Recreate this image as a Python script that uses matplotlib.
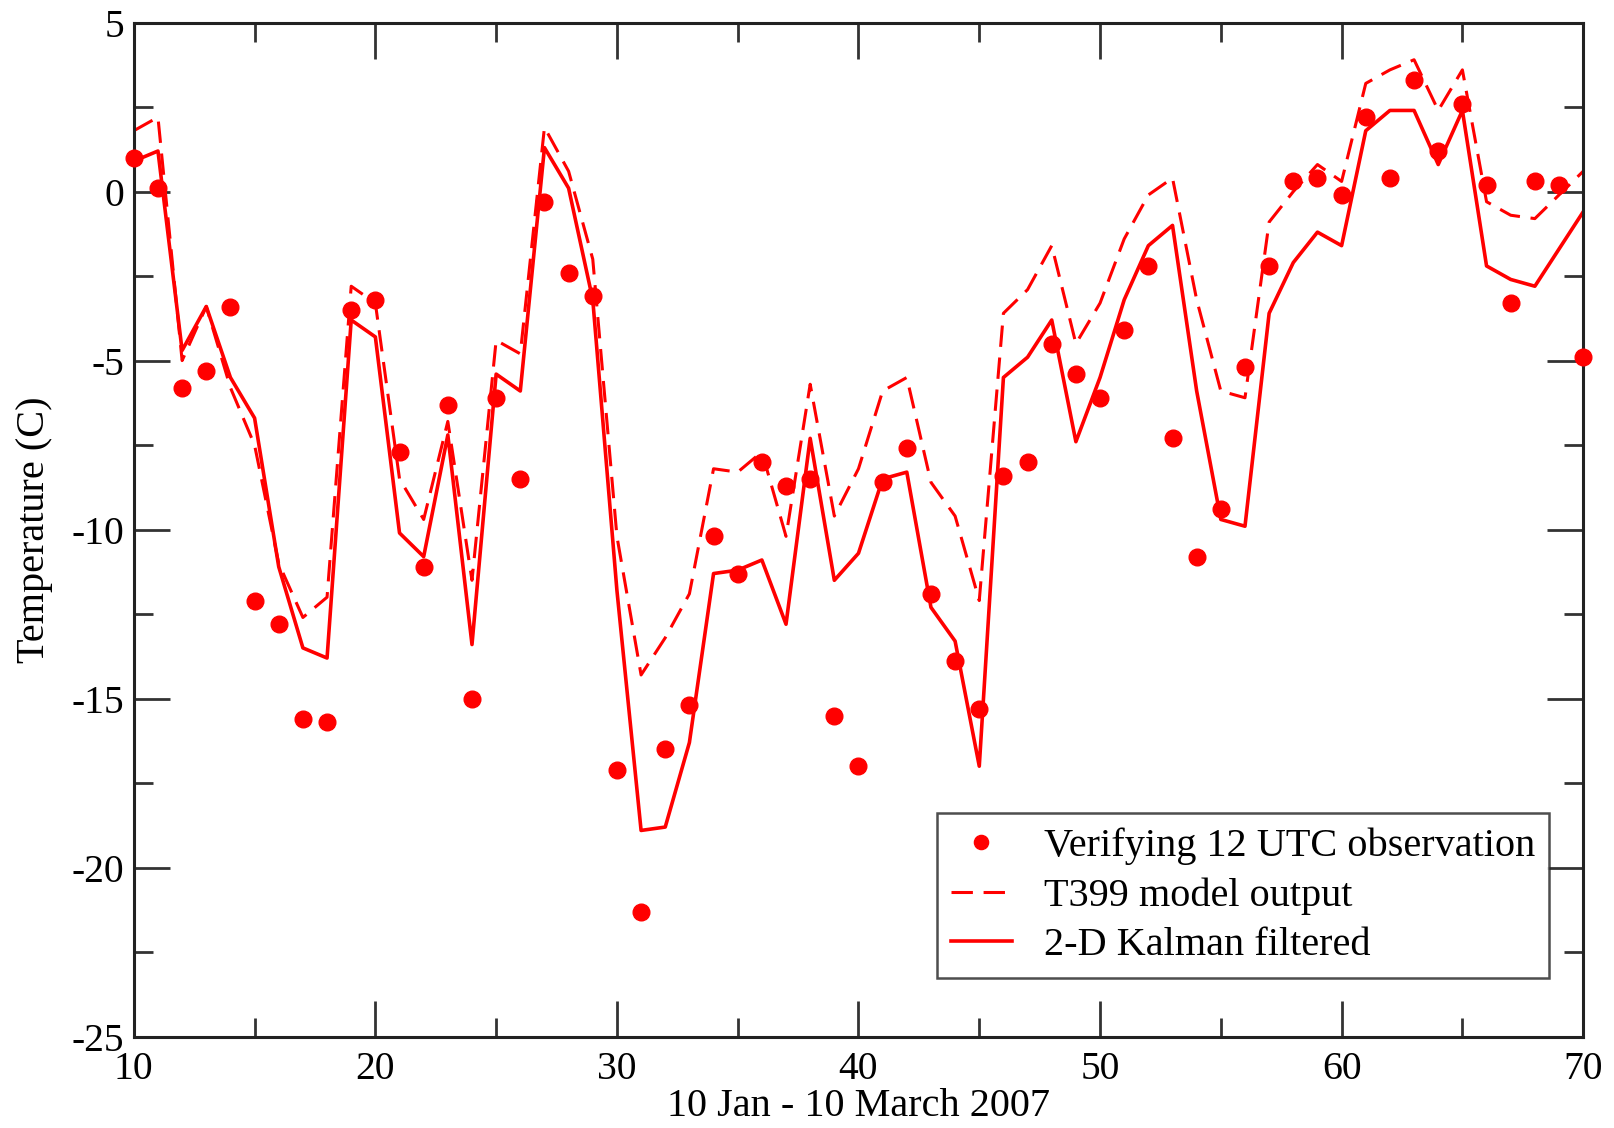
import matplotlib
matplotlib.use("Agg")
import matplotlib.pyplot as plt
from matplotlib.ticker import MultipleLocator

plt.rcParams["font.family"] = ["Liberation Serif", "DejaVu Serif"]
plt.rcParams["axes.unicode_minus"] = False

# day index along the period 10 Jan - 10 March 2007
days = list(range(10, 71))

# verifying 12 UTC observations (C)
obs = [1.0, 0.1, -5.8, -5.3, -3.4, -12.1, -12.8, -15.6, -15.7, -3.5,
       -3.2, -7.7, -11.1, -6.3, -15.0, -6.1, -8.5, -0.3, -2.4, -3.1,
       -17.1, -21.3, -16.5, -15.2, -10.2, -11.3, -8.0, -8.7, -8.5, -15.5,
       -17.0, -8.6, -7.6, -11.9, -13.9, -15.3, -8.4, -8.0, -4.5, -5.4,
       -6.1, -4.1, -2.2, -7.3, -10.8, -9.4, -5.2, -2.2, 0.3, 0.4,
       -0.1, 2.2, 0.4, 3.3, 1.2, 2.6, 0.2, -3.3, 0.3, 0.2,
       -4.9]

# raw T399 model output
t399 = [1.8, 2.2, -5.0, -3.4, -5.8, -7.5, -11.0, -12.6, -12.0, -2.8,
        -3.3, -8.5, -9.7, -6.8, -11.5, -4.4, -4.8, 1.9, 0.6, -2.0,
        -10.2, -14.3, -13.2, -11.9, -8.2, -8.3, -7.7, -10.2, -5.7, -9.6,
        -8.2, -5.9, -5.5, -8.6, -9.6, -12.1, -3.6, -2.9, -1.6, -4.5,
        -3.3, -1.4, -0.1, 0.4, -3.2, -5.9, -6.1, -0.9, 0.0, 0.8,
        0.3, 3.2, 3.6, 3.9, 2.4, 3.6, -0.3, -0.7, -0.8, -0.1,
        0.6]

# 2-D Kalman filtered forecast
kalman = [0.9, 1.2, -4.7, -3.4, -5.5, -6.7, -11.1, -13.5, -13.8, -3.8,
          -4.3, -10.1, -10.8, -7.2, -13.4, -5.4, -5.9, 1.3, 0.1, -3.2,
          -11.8, -18.9, -18.8, -16.3, -11.3, -11.2, -10.9, -12.8, -7.3, -11.5,
          -10.7, -8.5, -8.3, -12.3, -13.3, -17.0, -5.5, -4.9, -3.8, -7.4,
          -5.5, -3.2, -1.6, -1.0, -5.9, -9.7, -9.9, -3.6, -2.1, -1.2,
          -1.6, 1.8, 2.4, 2.4, 0.8, 2.4, -2.2, -2.6, -2.8, -1.7,
          -0.6]

fig = plt.figure(figsize=(16.14, 11.28), dpi=100)
ax = fig.add_axes([0.0829, 0.081, 0.898, 0.899])

ax.plot(days, obs, "o", color="red", markersize=12, clip_on=False,
        label="Verifying 12 UTC observation", zorder=3)
ax.plot(days, t399, color="red", linewidth=2.2, dashes=(7, 3.5),
        label="T399 model output")
ax.plot(days, kalman, color="red", linewidth=2.6,
        label="2-D Kalman filtered")

ax.set_xlim(10, 70)
ax.set_ylim(-25, 5)
ax.xaxis.set_major_locator(MultipleLocator(10))
ax.xaxis.set_minor_locator(MultipleLocator(5))
ax.yaxis.set_major_locator(MultipleLocator(5))
ax.yaxis.set_minor_locator(MultipleLocator(2.5))
ax.tick_params(which="both", direction="in", top=True, right=True,
               width=2, color="#333333")
ax.tick_params(which="major", length=26, labelsize=28.5, pad=7)
ax.tick_params(axis="x", which="major", pad=10)
ax.tick_params(which="minor", length=14)
for side in ax.spines.values():
    side.set_linewidth(2.2)
    side.set_color("#222222")

ax.set_xlabel("10 Jan - 10 March 2007", fontsize=29, labelpad=0)
ax.set_ylabel("Temperature (C)", fontsize=29, labelpad=13)

leg = ax.legend(loc="lower right", bbox_to_anchor=(0.9765, 0.0578),
                borderaxespad=0, fontsize=29, frameon=True, fancybox=False,
                edgecolor="#222222", handlelength=1.5, handletextpad=0.8,
                borderpad=0.35, labelspacing=0.3, markerscale=0.85)
leg.get_frame().set_linewidth(1.8)

fig.savefig("out.png", dpi=100)
